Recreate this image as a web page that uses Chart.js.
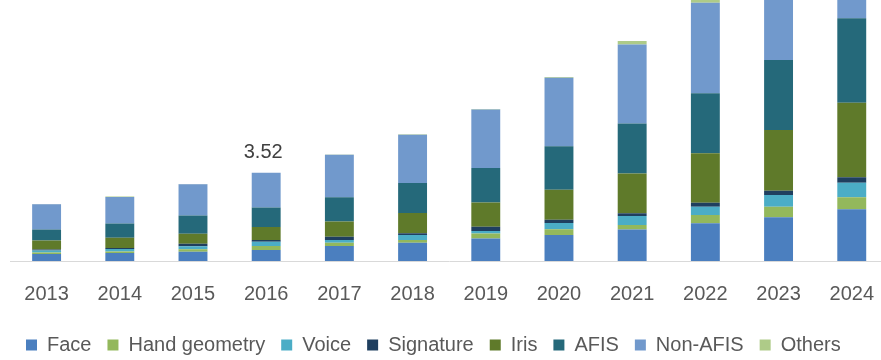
<!DOCTYPE html>
<html>
<head>
<meta charset="utf-8">
<script src="https://cdn.jsdelivr.net/npm/chart.js@4/dist/chart.umd.min.js"></script>
<style>
    html, body { margin: 0; padding: 0; background: #fff; overflow: hidden; }
    #wrap { position: absolute; left: 0; top: 0; width: 892px; height: 365px; }
</style>
</head>
<body>
<div id="wrap"><canvas id="chart"></canvas></div>
<script>
// Biometrics market by technology, stacked per year

const years = ['2013', '2014', '2015', '2016', '2017', '2018', '2019', '2020', '2021', '2022', '2023', '2024'];

const face      = [0.28, 0.32, 0.37, 0.44, 0.60, 0.73, 0.90, 1.04, 1.26, 1.50, 1.74, 2.06];
const hand      = [0.06, 0.06, 0.10, 0.16, 0.13, 0.11, 0.20, 0.23, 0.17, 0.33, 0.42, 0.48];
const voice     = [0.08, 0.10, 0.12, 0.17, 0.11, 0.20, 0.10, 0.24, 0.36, 0.33, 0.47, 0.58];
const signature = [0.04, 0.04, 0.10, 0.07, 0.13, 0.07, 0.16, 0.13, 0.11, 0.16, 0.17, 0.22];
const iris      = [0.36, 0.41, 0.40, 0.51, 0.60, 0.80, 0.97, 1.20, 1.59, 1.97, 2.42, 2.97];
const afis      = [0.44, 0.56, 0.72, 0.78, 0.97, 1.20, 1.38, 1.73, 1.99, 2.39, 2.79, 3.36];
const nonAfis   = [1.00, 1.06, 1.25, 1.39, 1.69, 1.92, 2.33, 2.73, 3.15, 3.61, 3.90, 4.20];
const others    = [0.01, 0.02, 0.01, 0.00, 0.01, 0.02, 0.02, 0.03, 0.14, 0.15, 0.20, 0.25];

// Only the 2016 total is labelled in the source
const labelledYear = '2016';
const labelledText = '3.52';

const series = [
    { label: 'Face', data: face, color: '#4b7fbf' },
    { label: 'Hand geometry', data: hand, color: '#93b85c' },
    { label: 'Voice', data: voice, color: '#4badc6' },
    { label: 'Signature', data: signature, color: '#1f3f5f' },
    { label: 'Iris', data: iris, color: '#5f7a2a' },
    { label: 'AFIS', data: afis, color: '#25697a' },
    { label: 'Non-AFIS', data: nonAfis, color: '#7199cc' },
    { label: 'Others', data: others, color: '#aecb88' }
];

const FONT = "'Liberation Sans', Arial, sans-serif";

// Draws the single total label above one bar
const totalLabel = {
    id: 'totalLabel',
    afterDatasetsDraw(chart) {
        const idx = years.indexOf(labelledYear);
        const total = series.reduce((sum, s) => sum + s.data[idx], 0);
        const x = chart.scales.x.getPixelForValue(idx);
        const y = chart.scales.y.getPixelForValue(total);
        const ctx = chart.ctx;
        ctx.save();
        ctx.font = '20px ' + FONT;
        ctx.fillStyle = '#404040';
        ctx.textAlign = 'center';
        ctx.textBaseline = 'bottom';
        ctx.fillText(labelledText, x - 3, y - 10);
        ctx.restore();
    }
};

const ctx = document.getElementById('chart').getContext('2d');

new Chart(ctx, {
    type: 'bar',
    data: {
        labels: years,
        datasets: series.map(s => ({
            label: s.label,
            data: s.data,
            backgroundColor: s.color,
            borderWidth: 0,
            barPercentage: 0.395,
            categoryPercentage: 1
        }))
    },
    options: {
        responsive: true,
        maintainAspectRatio: false,
        animation: false,
        layout: {
            padding: { left: 10, right: 0, top: 0, bottom: 0 }
        },
        scales: {
            x: {
                stacked: true,
                grid: { display: false },
                border: { display: true, color: '#d9d9d9', width: 1 },
                ticks: {
                    color: '#595959',
                    font: { family: FONT, size: 20, lineHeight: 0.7 },
                    padding: 18,
                    maxRotation: 0
                }
            },
            y: {
                stacked: true,
                display: false,
                min: 0,
                max: 10.4
            }
        },
        plugins: {
            legend: {
                position: 'bottom',
                align: 'start',
                labels: {
                    color: '#595959',
                    font: { family: FONT, size: 20 },
                    boxWidth: 11,
                    boxHeight: 11,
                    padding: 16
                }
            },
            tooltip: { enabled: false }
        }
    },
    plugins: [totalLabel]
});
</script>
</body>
</html>
